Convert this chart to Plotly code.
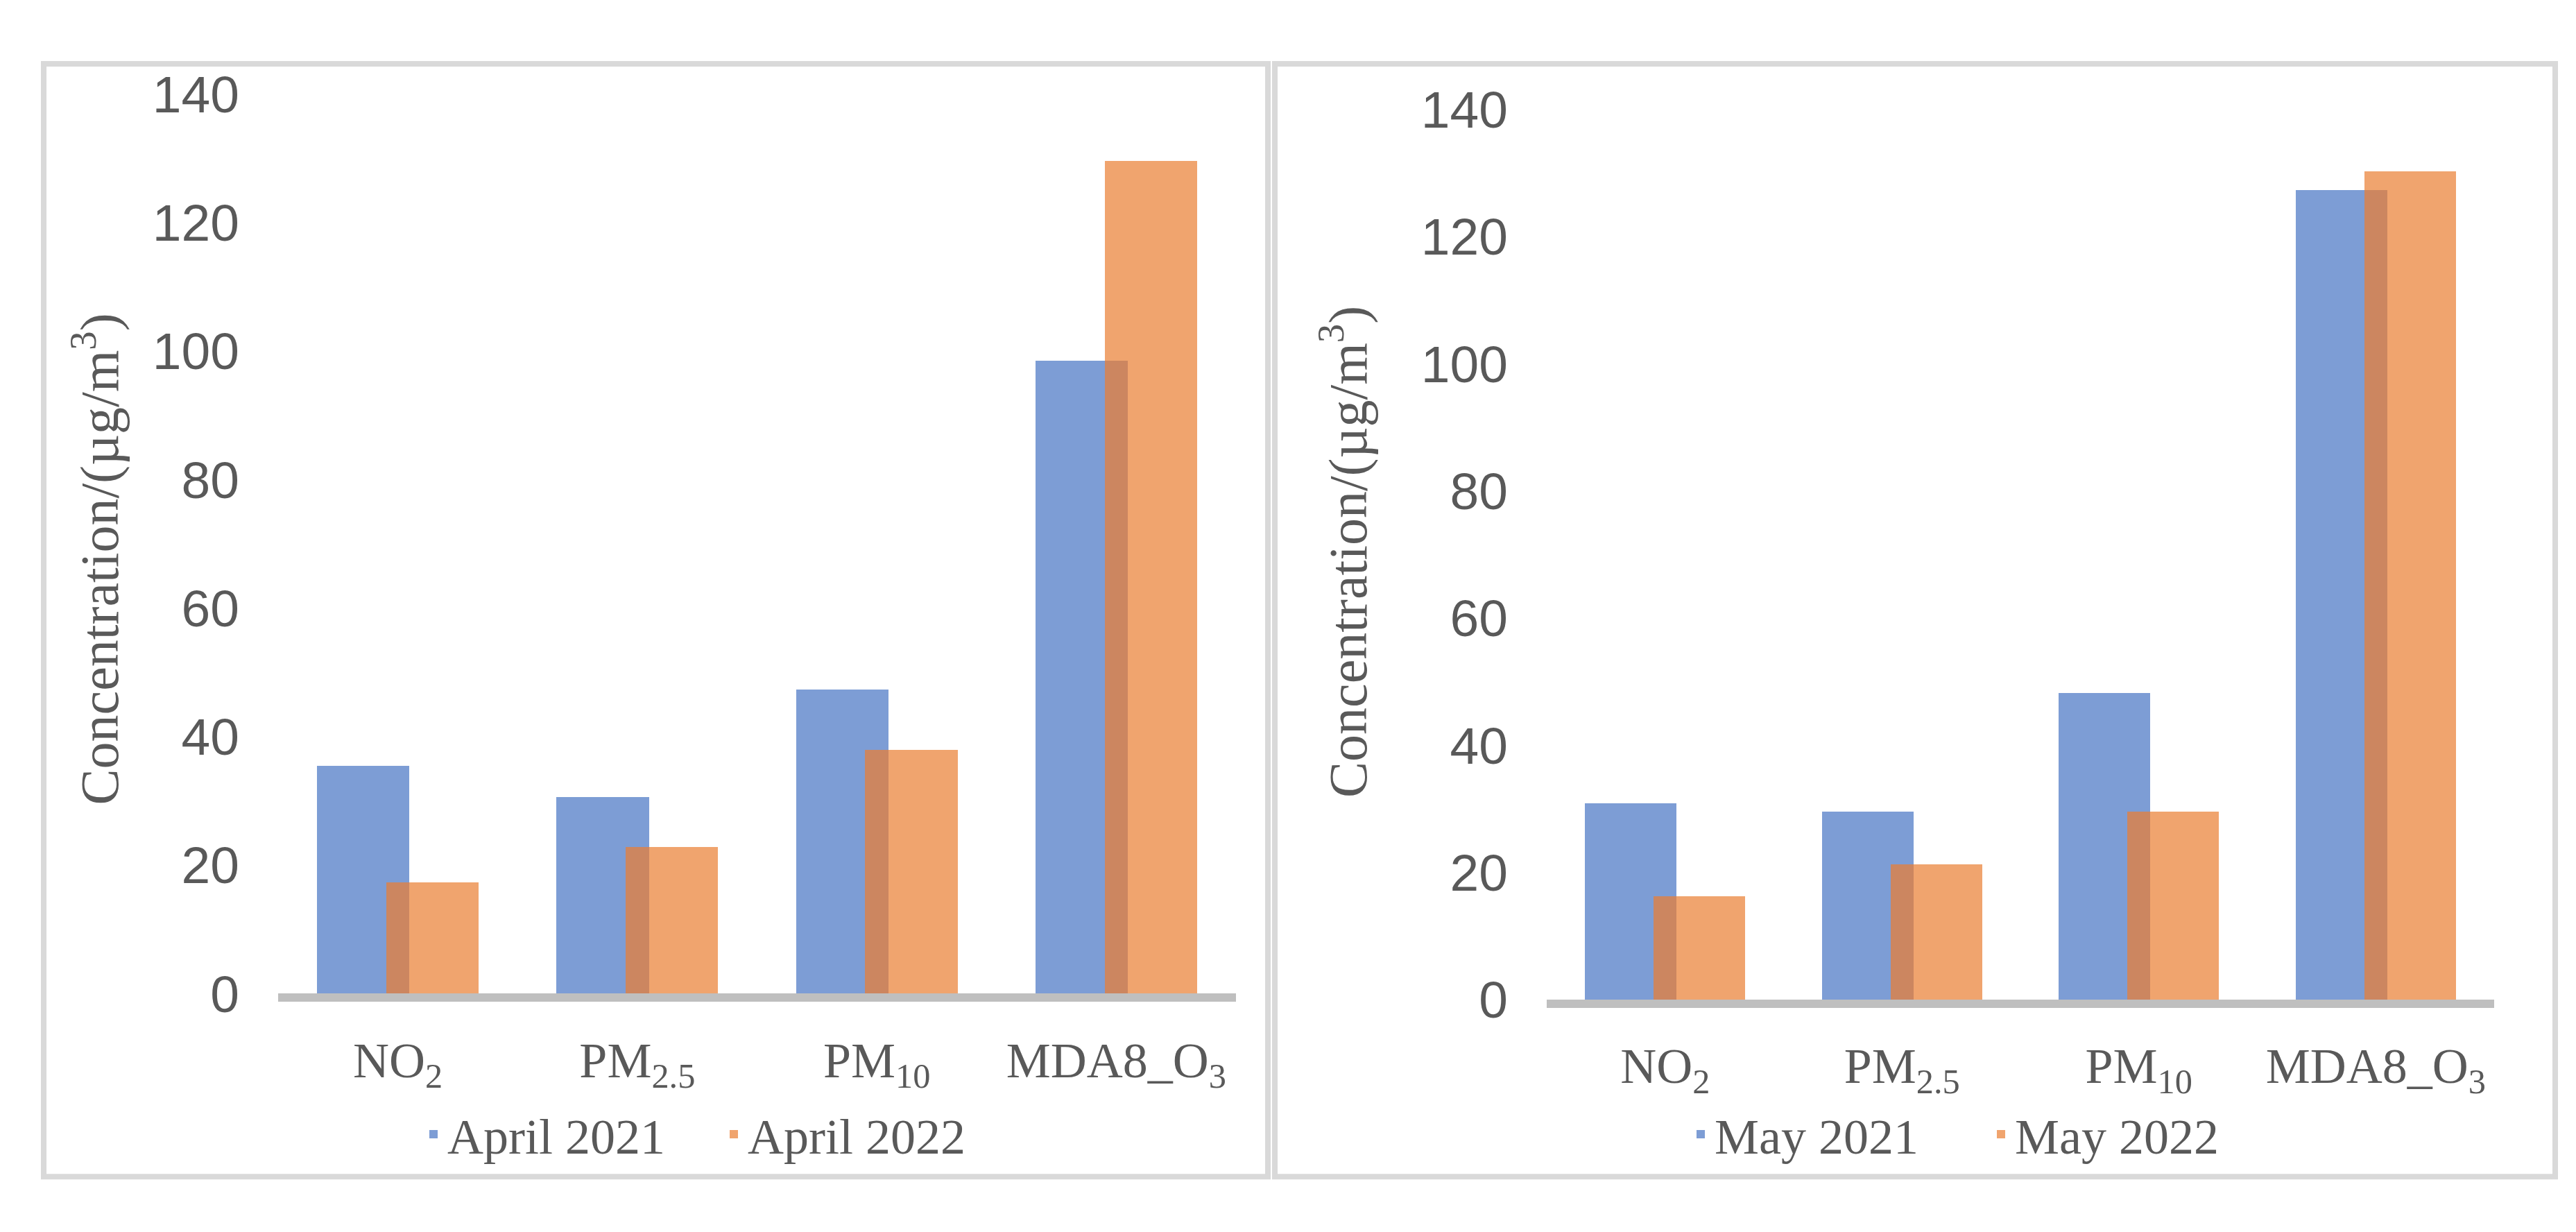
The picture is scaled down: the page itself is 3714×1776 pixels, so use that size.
import plotly.graph_objects as go

W, H = 3714, 1776

# ---------------- data ----------------
categories = ["NO2", "PM2.5", "PM10", "MDA8_O3"]
tick_labels = ["NO<sub>2</sub>", "PM<sub>2.5</sub>", "PM<sub>10</sub>", "MDA8_O<sub>3</sub>"]
y_ticks = [0, 20, 40, 60, 80, 100, 120, 140]

april_2021 = [35.5, 30.6, 47.4, 98.5]
april_2022 = [17.3, 22.8, 38.0, 129.6]
may_2021 = [30.9, 29.6, 48.3, 127.4]
may_2022 = [16.3, 21.3, 29.6, 130.3]

y_title = "Concentration/(µg/m<sup>3</sup>)"

# ---------------- style ----------------
BLUE = "#7D9DD5"
ORANGE = "#F0A46E"
OVERLAP = "#CC8660"
TXT = "#595959"
SERIF = "Liberation Serif, Times New Roman, serif"
SANS = "Liberation Sans, Arial, sans-serif"

BW = 0.386            # bar width (category units)
SHIFT = 0.75 * BW     # 25 % overlap
OFF1 = -(BW + SHIFT) / 2
OFF2 = OFF1 + SHIFT
OV_W = BW - SHIFT


def px(x):
    return x / W


def py(y):
    return 1 - y / H


fig = go.Figure()


def add_panel(xa, ya, s1, s2, n1, n2, legend):
    fig.add_trace(go.Bar(x=categories, y=s1, name=n1, marker=dict(color=BLUE, line=dict(width=0)),
                         width=BW, offset=OFF1, xaxis=xa, yaxis=ya, legend=legend))
    fig.add_trace(go.Bar(x=categories, y=s2, name=n2, marker=dict(color=ORANGE, line=dict(width=0)),
                         width=BW, offset=OFF2, xaxis=xa, yaxis=ya, legend=legend))
    overlap = [min(a, b) for a, b in zip(s1, s2)]
    fig.add_trace(go.Bar(x=categories, y=overlap, name="overlap", showlegend=False,
                         marker=dict(color=OVERLAP, line=dict(width=0)),
                         width=OV_W, offset=OFF2, xaxis=xa, yaxis=ya, hoverinfo="skip"))


add_panel("x", "y", april_2021, april_2022, "April 2021", "April 2022", "legend")
add_panel("x2", "y2", may_2021, may_2022, "May 2021", "May 2022", "legend2")

xa_common = dict(type="category", range=[-0.5, 3.5], tickmode="array", tickvals=categories,
                 ticktext=tick_labels, showline=True, linecolor="#BFBFBF", linewidth=12,
                 ticks="", showgrid=False, zeroline=False,
                 tickfont=dict(family=SERIF, size=72, color=TXT), ticklabelstandoff=22)
ya_common = dict(range=[0, 140], tickmode="array", tickvals=y_ticks, showgrid=False,
                 showline=False, zeroline=False, ticks="",
                 tickfont=dict(family=SANS, size=75, color=TXT), ticklabelstandoff=55)

legend_common = dict(orientation="h", yanchor="middle", xanchor="left",
                     font=dict(family=SERIF, size=72, color=TXT),
                     bgcolor="rgba(0,0,0,0)", borderwidth=0, entrywidth=388,
                     entrywidthmode="pixels")

fig.update_layout(
    width=W, height=H,
    margin=dict(l=0, r=0, t=0, b=0),
    paper_bgcolor="white", plot_bgcolor="white",
    barmode="overlay", bargap=0,
    xaxis=dict(domain=[px(393), px(1774)], anchor="y", **xa_common),
    yaxis=dict(domain=[py(1451), py(90)], anchor="x", **ya_common),
    xaxis2=dict(domain=[px(2222), px(3588)], anchor="y2", **xa_common),
    yaxis2=dict(domain=[py(1460), py(113)], anchor="x2", **ya_common),
    legend=dict(x=px(597), y=py(1664), **legend_common),
    legend2=dict(x=px(2424), y=py(1664), **legend_common),
    annotations=[
        dict(text=y_title, textangle=-90, xref="paper", yref="paper", x=px(130), y=py(794),
             showarrow=False, xanchor="center", yanchor="middle",
             font=dict(family=SERIF, size=78, color=TXT)),
        dict(text=y_title, textangle=-90, xref="paper", yref="paper", x=px(1930), y=py(783),
             showarrow=False, xanchor="center", yanchor="middle",
             font=dict(family=SERIF, size=78, color=TXT)),
    ],
    shapes=[
        dict(type="rect", xref="paper", yref="paper", x0=px(55), x1=px(1820), y0=py(1728), y1=py(44),
             line=dict(color="#D9D9D9", width=8), fillcolor="rgba(0,0,0,0)", layer="below"),
        dict(type="rect", xref="paper", yref="paper", x0=px(1830), x1=px(3676), y0=py(1728), y1=py(44),
             line=dict(color="#D9D9D9", width=8), fillcolor="rgba(0,0,0,0)", layer="below"),
    ],
)

fig.write_html("out.html")
